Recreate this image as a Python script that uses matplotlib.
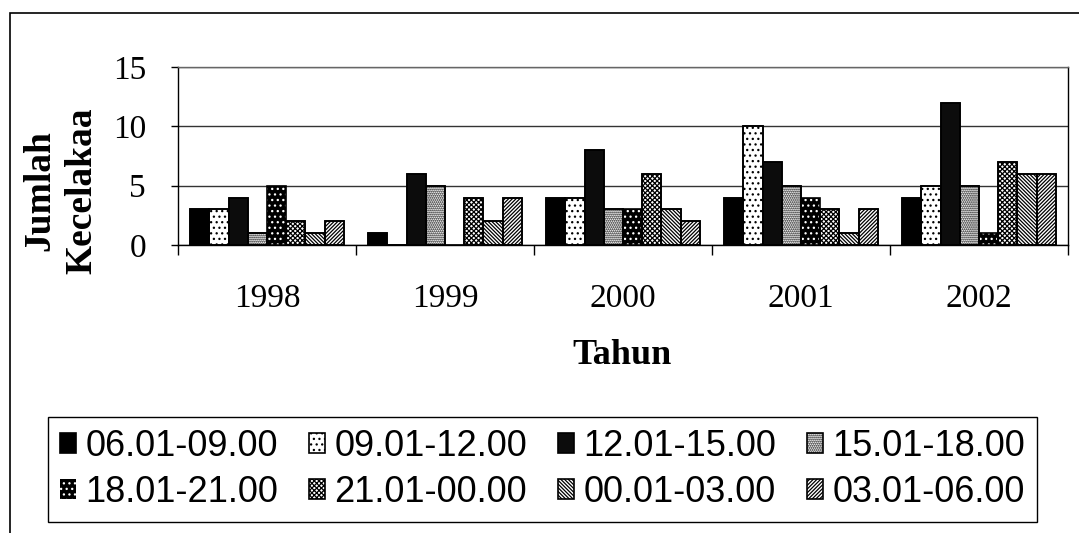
import numpy as np
import matplotlib
matplotlib.use("Agg")
import matplotlib.pyplot as plt
from matplotlib.patches import Rectangle

years = ["1998", "1999", "2000", "2001", "2002"]
periods = ["06.01-09.00", "09.01-12.00", "12.01-15.00", "15.01-18.00",
           "18.01-21.00", "21.01-00.00", "00.01-03.00", "03.01-06.00"]

# accidents per period, one list per period (values for 1998..2002)
p0609 = [3, 1, 4, 4, 4]
p0912 = [3, 0, 4, 10, 5]
p1215 = [4, 6, 8, 7, 12]
p1518 = [1, 5, 3, 5, 5]
p1821 = [5, 0, 3, 4, 1]
p2100 = [2, 4, 6, 3, 7]
p0003 = [1, 2, 3, 1, 6]
p0306 = [2, 4, 2, 3, 6]
series = [p0609, p0912, p1215, p1518, p1821, p2100, p0003, p0306]

# face, hatch, hatch colour for each period
styles = [
    ("black", "", "black"),
    ("white", "...", "black"),
    ("#0c0c0c", "", "black"),
    ("white", "........", "black"),
    ("black", "...", "white"),
    ("white", "xxxxxxx", "black"),
    ("white", "\\" * 9, "black"),
    ("white", "/" * 9, "black"),
]

plt.rcParams["hatch.linewidth"] = 0.9

fig = plt.figure(figsize=(10.79, 5.33), dpi=100)
ax = fig.add_axes([178 / 1079, 1 - 245 / 533, 890 / 1079, 178 / 533])

x = np.arange(len(years))
w = 0.108
handles = []
for j, (vals, (fc, hatch, hc)) in enumerate(zip(series, styles)):
    pos = x + (j - 3.5) * w
    lw = 0 if hc == "white" else 1.2
    bars = ax.bar(pos, vals, w, facecolor=fc, hatch=hatch, edgecolor=hc,
                  linewidth=lw, label=periods[j], zorder=3)
    ax.bar(pos, vals, w, fill=False, edgecolor="black", linewidth=1.2, zorder=4)
    handles.append(bars)

ax.set_xlim(-0.5, 4.5)
ax.set_ylim(0, 15)
ax.set_yticks([0, 5, 10, 15])
ax.yaxis.grid(True, color="#333333", linewidth=1.0, zorder=0)
ax.set_axisbelow(True)

serif = "Liberation Serif"
ax.set_xticks(np.arange(-0.5, 5, 1))
ax.set_xticklabels([])
ax.set_xticks(x, minor=True)
ax.set_xticklabels(years, minor=True, fontsize=24, family=serif)
ax.tick_params(axis="x", which="major", direction="out", length=7, width=1)
ax.tick_params(axis="x", which="minor", length=0, pad=28)
ax.tick_params(axis="y", direction="out", length=5, width=1, pad=18,
               labelsize=24)
for lab in ax.get_yticklabels():
    lab.set_family(serif)

for s in ax.spines.values():
    s.set_linewidth(1.0)
    s.set_color("black")
ax.spines["top"].set_color("#666666")

fig.text(61 / 1079, 1 - 191 / 533, "Jumlah\nKecelakaa", rotation=90,
         ha="center", va="center", multialignment="center", fontsize=27,
         fontweight="bold", family=serif, linespacing=1.25)
fig.text(622 / 1079, 1 - 355 / 533, "Tahun", ha="center", va="center",
         fontsize=26, fontweight="bold", family=serif)

# legend is filled column by column, so interleave to read row-wise
order = [0, 4, 1, 5, 2, 6, 3, 7]
leg = fig.legend(handles=[handles[i] for i in order],
                 labels=[periods[i] for i in order], ncol=4, loc="upper left",
                 bbox_to_anchor=(48 / 1079, 1 - 417 / 533, 989 / 1079, 0),
                 mode="expand", fancybox=False, framealpha=1, edgecolor="black",
                 prop={"family": "Liberation Sans", "size": 26},
                 handlelength=0.45, handleheight=0.45, handletextpad=0.25,
                 columnspacing=0.6, labelspacing=0.3, borderpad=0.33,
                 borderaxespad=0)
leg.get_frame().set_linewidth(1.0)

# outer chart border (left and top edges visible in the scan)
fig.patches.append(Rectangle((10 / 1079, -0.1), 1.2, 1.1 - 12.5 / 533,
                             transform=fig.transFigure, fill=False,
                             edgecolor="black", linewidth=1.2))

fig.savefig("out.png", dpi=100)
